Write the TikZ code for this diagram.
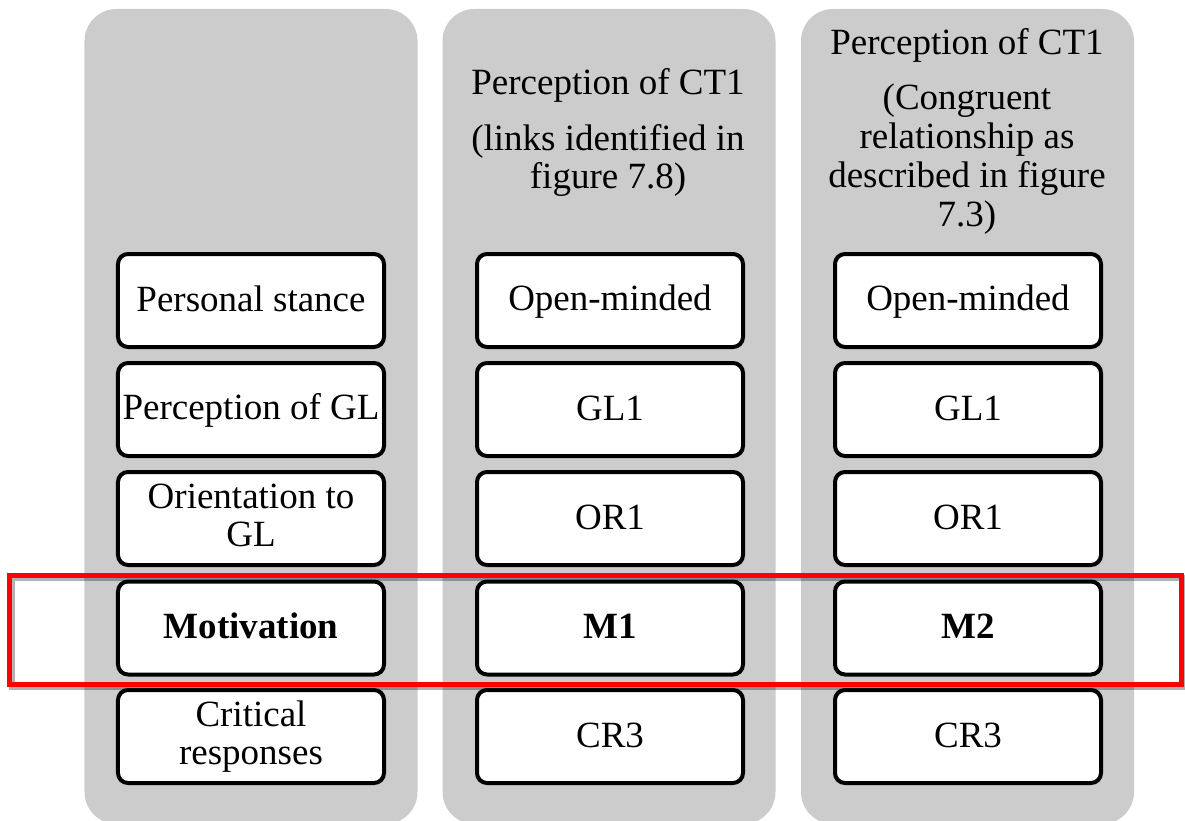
\documentclass[tikz,border=0pt]{standalone}
\usepackage{fontspec}
\setmainfont{Liberation Serif}
\definecolor{colgray}{RGB}{204,204,204}
\definecolor{hlred}{RGB}{255,0,0}
\newcommand{\cellstrut}{\rule[-6bp]{0pt}{33bp}}
\tikzset{
  colbg/.style={fill=colgray, draw=none, rounded corners=32bp, minimum width=333bp, minimum height=815bp, inner sep=0pt},
  cell/.style={draw=black, fill=white, line width=4bp, rounded corners=10bp, minimum width=266bp, minimum height=93bp, inner sep=0pt, align=center, font=\fontsize{37bp}{38bp}\selectfont,
    execute at begin node=\cellstrut, execute at end node=\cellstrut},
  head/.style={anchor=base, inner sep=0pt, font=\fontsize{37bp}{38bp}\selectfont},
  highlight/.style={draw=hlred, line width=5bp, minimum width=1171bp, minimum height=109bp, inner sep=0pt,
    preaction={draw=black, opacity=0.3, line width=6bp, transform canvas={xshift=2bp, yshift=-3bp}}},
}
\begin{document}
\begin{tikzpicture}[x=1bp, y=-1bp]
  \clip (0,0) rectangle (1185,821);
  % background columns
  \node[colbg] (c1) at (251,416.5) {};
  \node[colbg] (c2) at (609,416.5) {};
  \node[colbg] (c3) at (967.5,416.5) {};
  % headers column 2
  \node[head] (h2a) at (608,95) {Perception of CT1};
  \node[head] (h2b) at (608,150) {(links identified in};
  \node[head] (h2c) at (608,188) {figure 7.8)};
  % headers column 3
  \node[head] (h3a) at (967,55) {Perception of CT1};
  \node[head] (h3b) at (967,110) {(Congruent};
  \node[head] (h3c) at (967,148) {relationship as};
  \node[head] (h3d) at (967,187) {described in figure};
  \node[head] (h3e) at (967,226) {7.3)};
  % column 1 cells
  \node[cell] (a1) at (251,300.5) {Personal stance};
  \node[cell] (a2) at (251,409.5) {Perception of GL};
  \node[cell] (a3) at (251,518.5) {Orientation to\\GL};
  \node[cell] (a4) at (251,628) {\textbf{Motivation}};
  \node[cell] (a5) at (251,736.5) {Critical\\responses};
  % column 2 cells
  \node[cell] (b1) at (610,300.5) {Open-minded};
  \node[cell] (b2) at (610,409.5) {GL1};
  \node[cell] (b3) at (610,518.5) {OR1};
  \node[cell] (b4) at (610,628) {\textbf{M1}};
  \node[cell] (b5) at (610,736.5) {CR3};
  % column 3 cells
  \node[cell] (d1) at (968,300.5) {Open-minded};
  \node[cell] (d2) at (968,409.5) {GL1};
  \node[cell] (d3) at (968,518.5) {OR1};
  \node[cell] (d4) at (968,628) {\textbf{M2}};
  \node[cell] (d5) at (968,736.5) {CR3};
  % red highlight
  \node[highlight] (hl) at (595.5,629.5) {};
\end{tikzpicture}
\end{document}
